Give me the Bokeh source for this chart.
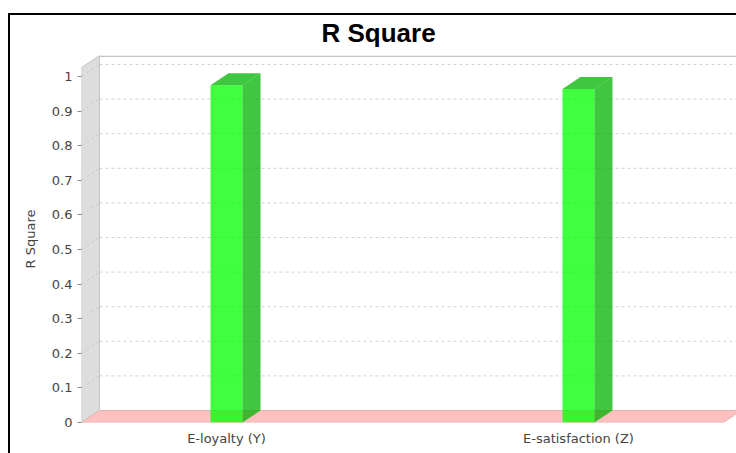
from bokeh.plotting import figure
from bokeh.models import Range1d, FixedTicker, CustomJSTickFormatter, ColumnDataSource, InlineStyleSheet
from bokeh.embed import file_html
from bokeh.resources import INLINE

# ---- data ----
categories = ["E-loyalty (Y)", "E-satisfaction (Z)"]
r_square = [0.975, 0.964]
y_ticks = [0.0, 0.1, 0.2, 0.3, 0.4, 0.5, 0.6, 0.7, 0.8, 0.9, 1.0]

# ---- layout / style constants ----
X_START, X_END = -0.412, 1.449
Y_TOP = 1.0607
WALL_RIGHT = 1.463
BAR_W = 0.0909
DX = 0.0511   # 3D depth offset (x)
DY = 0.0347   # 3D depth offset (y)
FONT = "DejaVu Sans"

pos = list(range(len(categories)))

p = figure(width=736, height=453,
           x_range=Range1d(X_START, X_END), y_range=Range1d(0, Y_TOP),
           output_backend="svg", toolbar_location=None,
           min_border_left=81, min_border_right=0,
           min_border_top=55, min_border_bottom=31,
           background_fill_color="white", border_fill_color="white",
           outline_line_color=None)
# chart border (black frame line around the whole chart, partly outside the view)
p.stylesheets = [InlineStyleSheet(css=(
    ":host { position: relative; }"
    ":host::before { content: ''; position: absolute; left: 8px; top: 13px;"
    " right: -20px; bottom: -20px; border-left: 2px solid #000;"
    " border-top: 2px solid #000; z-index: 100; pointer-events: none; }"))]

p.xgrid.visible = False
p.ygrid.visible = False

# title
p.title.text = "R Square"
p.title.text_font = "Liberation Sans"
p.title.text_font_size = "26px"
p.title.text_font_style = "bold"
p.title.text_color = "black"
p.title.align = "left"
p.title.offset = 240
p.title.standoff = 16

# y axis
ya = p.yaxis[0]
ya.ticker = FixedTicker(ticks=y_ticks)
ya.formatter = CustomJSTickFormatter(code="return (Math.round(tick*10)/10).toString();")
ya.axis_line_color = None
ya.major_tick_in = 0
ya.major_tick_out = 4
ya.major_tick_line_color = "#888888"
ya.minor_tick_line_color = None
ya.major_label_standoff = 5
ya.major_label_text_font = FONT
ya.major_label_text_font_size = "13px"
ya.major_label_text_color = "#444444"
ya.axis_label = "R Square"
ya.axis_label_text_font = FONT
ya.axis_label_text_font_size = "13px"
ya.axis_label_text_font_style = "normal"
ya.axis_label_text_color = "#444444"
ya.axis_label_standoff = 11

# x axis
xa = p.xaxis[0]
xa.ticker = FixedTicker(ticks=pos)
xa.major_label_overrides = {i: c for i, c in zip(pos, categories)}
xa.axis_line_color = None
xa.major_tick_line_color = None
xa.minor_tick_line_color = None
xa.major_tick_in = 0
xa.major_tick_out = 0
xa.major_label_standoff = 8
xa.major_label_text_font = FONT
xa.major_label_text_font_size = "13px"
xa.major_label_text_color = "#444444"

# ---- 3D walls ----
# left side wall
p.patch(x=[X_START, X_START + DX, X_START + DX, X_START],
        y=[0, DY, Y_TOP, Y_TOP - DY],
        fill_color="#dddddd", line_color="#c4c4c4", line_width=1)
# back-wall top edge
p.segment(x0=[X_START + DX], y0=[Y_TOP - 0.002], x1=[X_END], y1=[Y_TOP - 0.002],
          line_color="#c4c4c4", line_width=1.5)
# grid lines on back wall and side wall
gv = [v for v in y_ticks if v > 0]
p.segment(x0=[X_START + DX] * len(gv), y0=[v + DY for v in gv],
          x1=[WALL_RIGHT] * len(gv), y1=[v + DY for v in gv],
          line_color="#d2d2d2", line_width=1, line_dash="3 3")
p.segment(x0=[X_START] * len(gv), y0=gv,
          x1=[X_START + DX] * len(gv), y1=[v + DY for v in gv],
          line_color="#c8c8c8", line_width=1, line_dash="3 3")
# floor
p.patch(x=[X_START, X_START + DX, WALL_RIGHT, WALL_RIGHT - DX],
        y=[0, DY, DY, 0],
        fill_color="#ffc0c0", line_color="#e2b4b4", line_width=1)

# ---- bars ----
front = ColumnDataSource(dict(
    left=[c - BAR_W / 2 for c in pos],
    right=[c + BAR_W / 2 for c in pos],
    top=r_square,
    bottom=[0] * len(pos)))
p.quad(left="left", right="right", top="top", bottom="bottom", source=front,
       fill_color="#00ff00", fill_alpha=0.75, line_color=None)

side_xs = [[c + BAR_W / 2, c + BAR_W / 2 + DX, c + BAR_W / 2 + DX, c + BAR_W / 2] for c in pos]
side_ys = [[0, DY, v + DY, v] for v in r_square]
p.patches(xs=side_xs, ys=side_ys, fill_color="#00b300", fill_alpha=0.75, line_color=None)

top_xs = [[c - BAR_W / 2, c - BAR_W / 2 + DX, c + BAR_W / 2 + DX, c + BAR_W / 2] for c in pos]
top_ys = [[v, v + DY, v + DY, v] for v in r_square]
p.patches(xs=top_xs, ys=top_ys, fill_color="#00b300", fill_alpha=0.75, line_color=None)

open("out.html", "w").write(file_html(p, INLINE))
